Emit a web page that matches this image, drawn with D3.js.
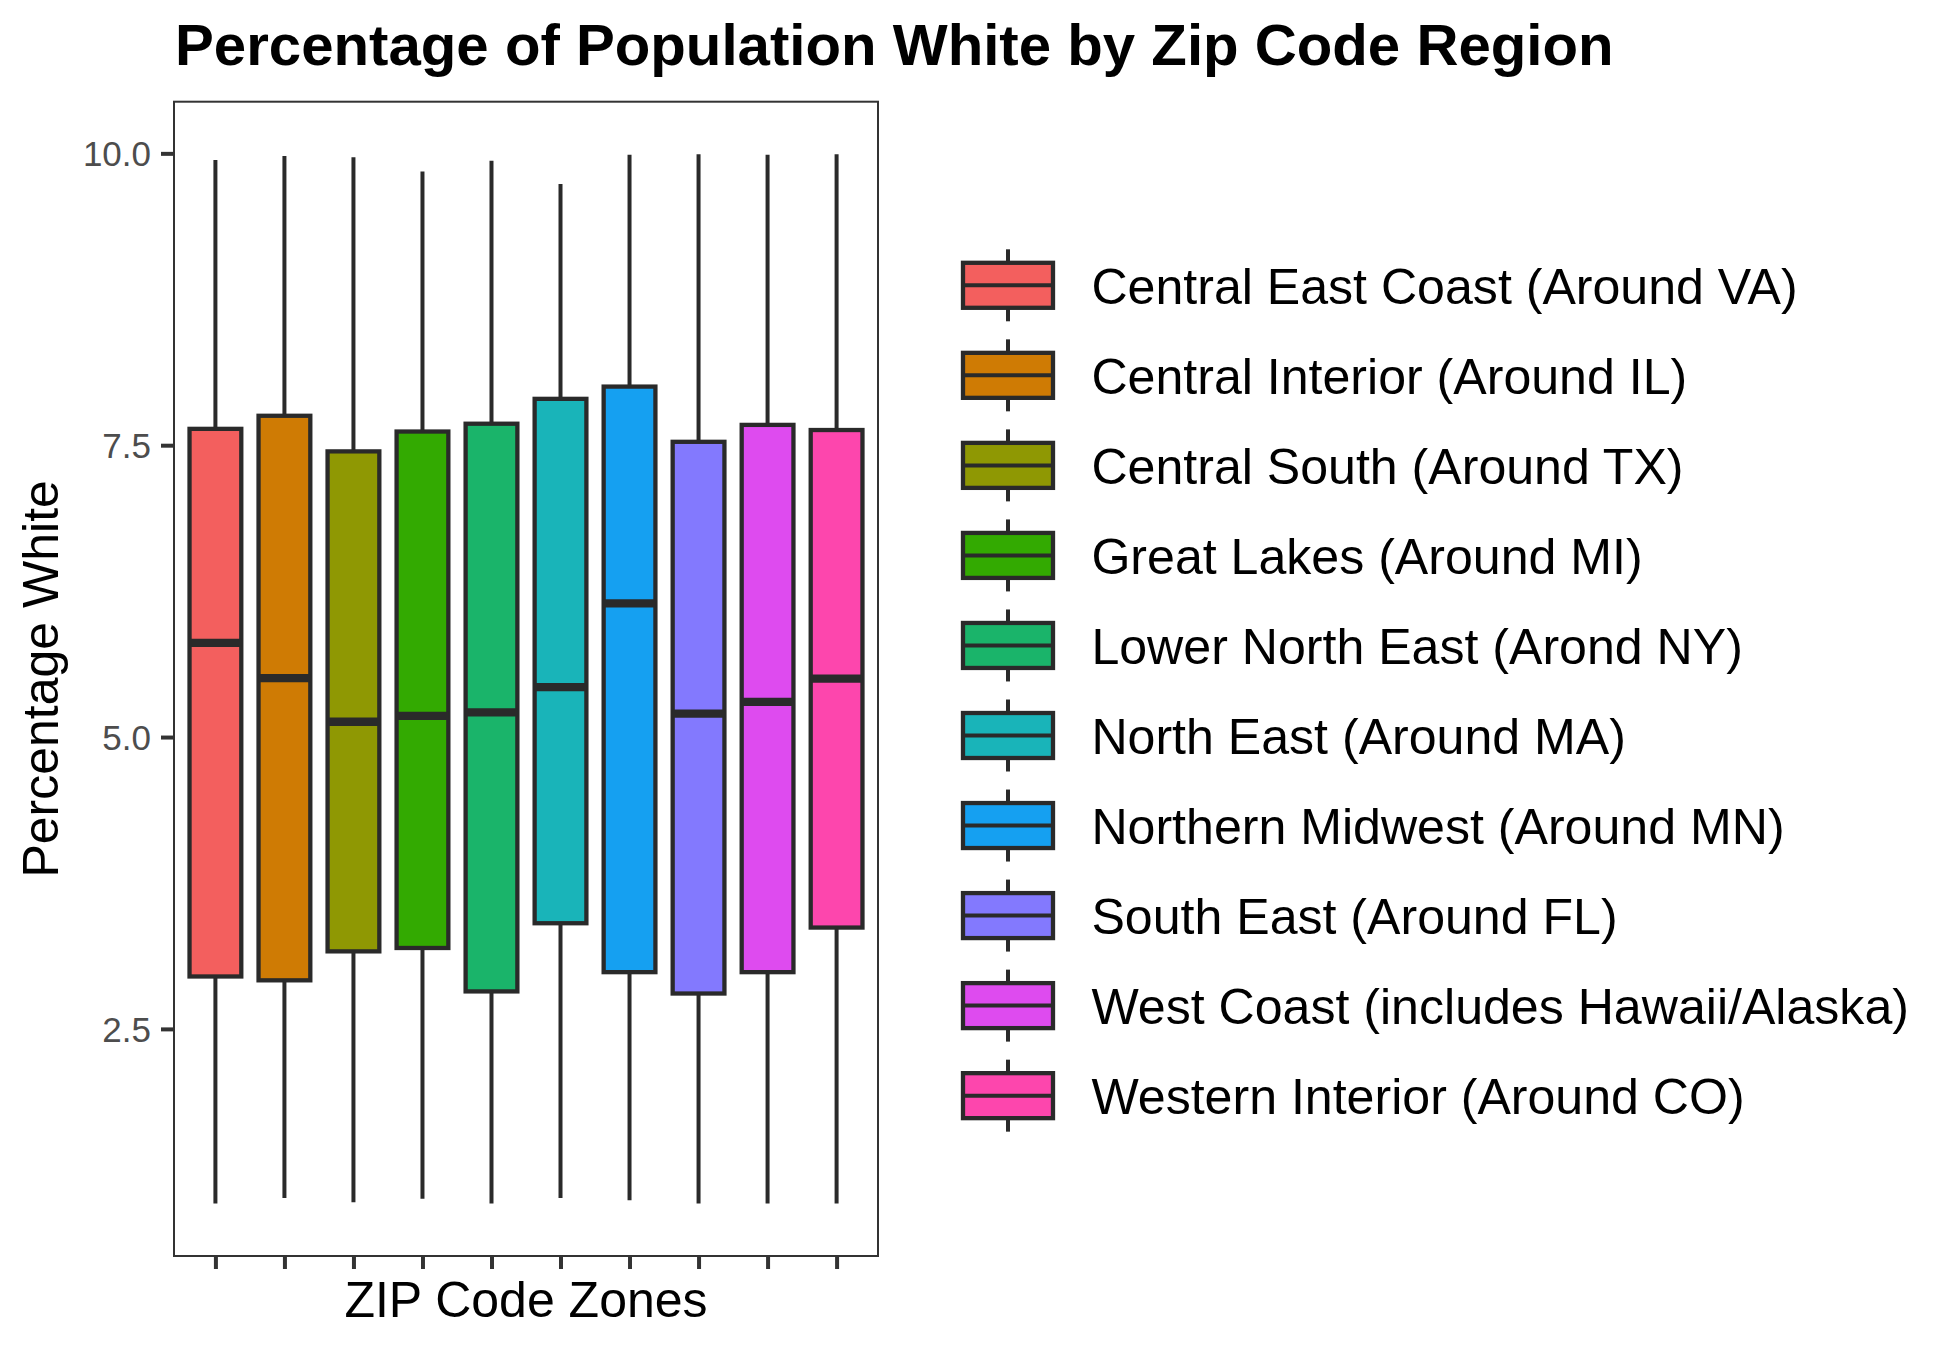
<!DOCTYPE html>
<html>
<head>
<meta charset="utf-8">
<script src="https://cdn.jsdelivr.net/npm/d3@7"></script>
<style>
  html, body { margin: 0; padding: 0; background: #ffffff; }
  svg { display: block; font-family: "Liberation Sans", Arial, Helvetica, sans-serif; }
</style>
</head>
<body>
<svg id="chart" width="1950" height="1350"></svg>
<script>
// ---------------- data ----------------
const categories = [
  "Central East Coast (Around VA)",
  "Central Interior (Around IL)",
  "Central South (Around TX)",
  "Great Lakes (Around MI)",
  "Lower North East (Arond NY)",
  "North East (Around MA)",
  "Northern Midwest (Around MN)",
  "South East (Around FL)",
  "West Coast (includes Hawaii/Alaska)",
  "Western Interior (Around CO)"
];
const whiskerLow  = [1.004, 1.052, 1.015, 1.044, 1.004, 1.052, 1.032, 1.004, 1.004, 1.004];
const q1Values    = [2.949, 2.916, 3.164, 3.193, 2.821, 3.405, 2.986, 2.803, 2.986, 3.368];
const medianValues= [5.806, 5.505, 5.131, 5.182, 5.211, 5.427, 6.145, 5.200, 5.302, 5.501];
const q3Values    = [7.640, 7.752, 7.447, 7.617, 7.684, 7.897, 8.002, 7.529, 7.674, 7.630];
const whiskerHigh = [9.943, 9.977, 9.967, 9.845, 9.936, 9.737, 9.987, 9.993, 9.987, 9.993];
const fillColors  = ["#F35F5E", "#CF7B04", "#8F9803", "#33AA01", "#1AB46A",
                     "#19B4B9", "#15A0F1", "#8379FE", "#DE4BEF", "#FD46AD"];
const yTicks = [2.5, 5.0, 7.5, 10.0];

const titleText = "Percentage of Population White by Zip Code Region";
const xTitle = "ZIP Code Zones";
const yTitle = "Percentage White";

// ---------------- layout ----------------
const panel = { left: 174, right: 878, top: 101.7, bottom: 1256 };
const lineColor = "#2A2A2A";

const svg = d3.select("#chart");

const rows = categories.map((c, i) => ({
  cat: c, lo: whiskerLow[i], q1: q1Values[i], med: medianValues[i],
  q3: q3Values[i], hi: whiskerHigh[i], fill: fillColors[i]
}));

const dMin = d3.min(whiskerLow), dMax = d3.max(whiskerHigh);
const pad = (dMax - dMin) * 0.05;
const y = d3.scaleLinear().domain([dMin - pad, dMax + pad]).range([panel.bottom, panel.top]);
const x = d3.scalePoint().domain(categories).range([panel.left, panel.right]).padding(0.6);
const step = x.step();
const boxW = step * 0.75;

// title
svg.append("text")
  .attr("x", panel.left + 1).attr("y", 65)
  .attr("font-size", 58.2).attr("font-weight", "bold").attr("fill", "#000")
  .text(titleText);

// panel border
svg.append("rect")
  .attr("x", panel.left).attr("y", panel.top)
  .attr("width", panel.right - panel.left).attr("height", panel.bottom - panel.top)
  .attr("fill", "none").attr("stroke", "#333333").attr("stroke-width", 2);

// y axis
const yAxis = d3.axisLeft(y).tickValues(yTicks).tickFormat(d3.format(".1f")).tickSize(12).tickPadding(10);
const gy = svg.append("g").attr("transform", `translate(${panel.left - 1},0)`).call(yAxis);
gy.select(".domain").remove();
gy.selectAll(".tick line").attr("stroke", "#333333").attr("stroke-width", 4);
gy.selectAll(".tick text").attr("font-size", 35).attr("fill", "#4D4D4D")
  .attr("font-family", "Liberation Sans, Arial, sans-serif").attr("dy", "0.36em");

// x axis (ticks only)
const xAxis = d3.axisBottom(x).tickSize(12).tickFormat("");
const gx = svg.append("g").attr("transform", `translate(0,${panel.bottom + 1})`).call(xAxis);
gx.select(".domain").remove();
gx.selectAll(".tick line").attr("stroke", "#333333").attr("stroke-width", 4);

// axis titles
svg.append("text")
  .attr("x", (panel.left + panel.right) / 2).attr("y", 1317)
  .attr("text-anchor", "middle").attr("font-size", 50).attr("fill", "#000")
  .text(xTitle);
svg.append("text")
  .attr("transform", `translate(58,${(panel.top + panel.bottom) / 2}) rotate(-90)`)
  .attr("text-anchor", "middle").attr("font-size", 50).attr("fill", "#000")
  .text(yTitle);

// boxes
const g = svg.append("g");
const bx = g.selectAll("g.box").data(rows).enter().append("g").attr("class", "box");
bx.append("line")
  .attr("x1", d => x(d.cat)).attr("x2", d => x(d.cat))
  .attr("y1", d => y(d.hi)).attr("y2", d => y(d.q3))
  .attr("stroke", lineColor).attr("stroke-width", 4);
bx.append("line")
  .attr("x1", d => x(d.cat)).attr("x2", d => x(d.cat))
  .attr("y1", d => y(d.q1)).attr("y2", d => y(d.lo))
  .attr("stroke", lineColor).attr("stroke-width", 4);
bx.append("rect")
  .attr("x", d => x(d.cat) - boxW / 2).attr("width", boxW)
  .attr("y", d => y(d.q3)).attr("height", d => y(d.q1) - y(d.q3))
  .attr("fill", d => d.fill).attr("stroke", lineColor).attr("stroke-width", 4.3);
bx.append("line")
  .attr("x1", d => x(d.cat) - boxW / 2).attr("x2", d => x(d.cat) + boxW / 2)
  .attr("y1", d => y(d.med)).attr("y2", d => y(d.med))
  .attr("stroke", lineColor).attr("stroke-width", 8.3);

// legend
const leg = { cx: 1008, cy0: 285.3, gap: 90.04, kw: 90, kh: 45, wh: 36, labelX: 1091.4 };
const lg = svg.append("g").selectAll("g.key").data(rows).enter().append("g")
  .attr("transform", (d, i) => `translate(0,${leg.cy0 + i * leg.gap})`);
lg.append("line").attr("x1", leg.cx).attr("x2", leg.cx).attr("y1", -leg.wh).attr("y2", -leg.kh / 2)
  .attr("stroke", lineColor).attr("stroke-width", 4);
lg.append("line").attr("x1", leg.cx).attr("x2", leg.cx).attr("y1", leg.kh / 2).attr("y2", leg.wh)
  .attr("stroke", lineColor).attr("stroke-width", 4);
lg.append("rect").attr("x", leg.cx - leg.kw / 2).attr("y", -leg.kh / 2)
  .attr("width", leg.kw).attr("height", leg.kh)
  .attr("fill", d => d.fill).attr("stroke", lineColor).attr("stroke-width", 4.3);
lg.append("line").attr("x1", leg.cx - leg.kw / 2).attr("x2", leg.cx + leg.kw / 2).attr("y1", 0).attr("y2", 0)
  .attr("stroke", lineColor).attr("stroke-width", 4);
lg.append("text").attr("x", leg.labelX).attr("y", 0).attr("dy", "0.37em")
  .attr("font-size", 50.1).attr("fill", "#000").text(d => d.cat);
</script>
</body>
</html>
